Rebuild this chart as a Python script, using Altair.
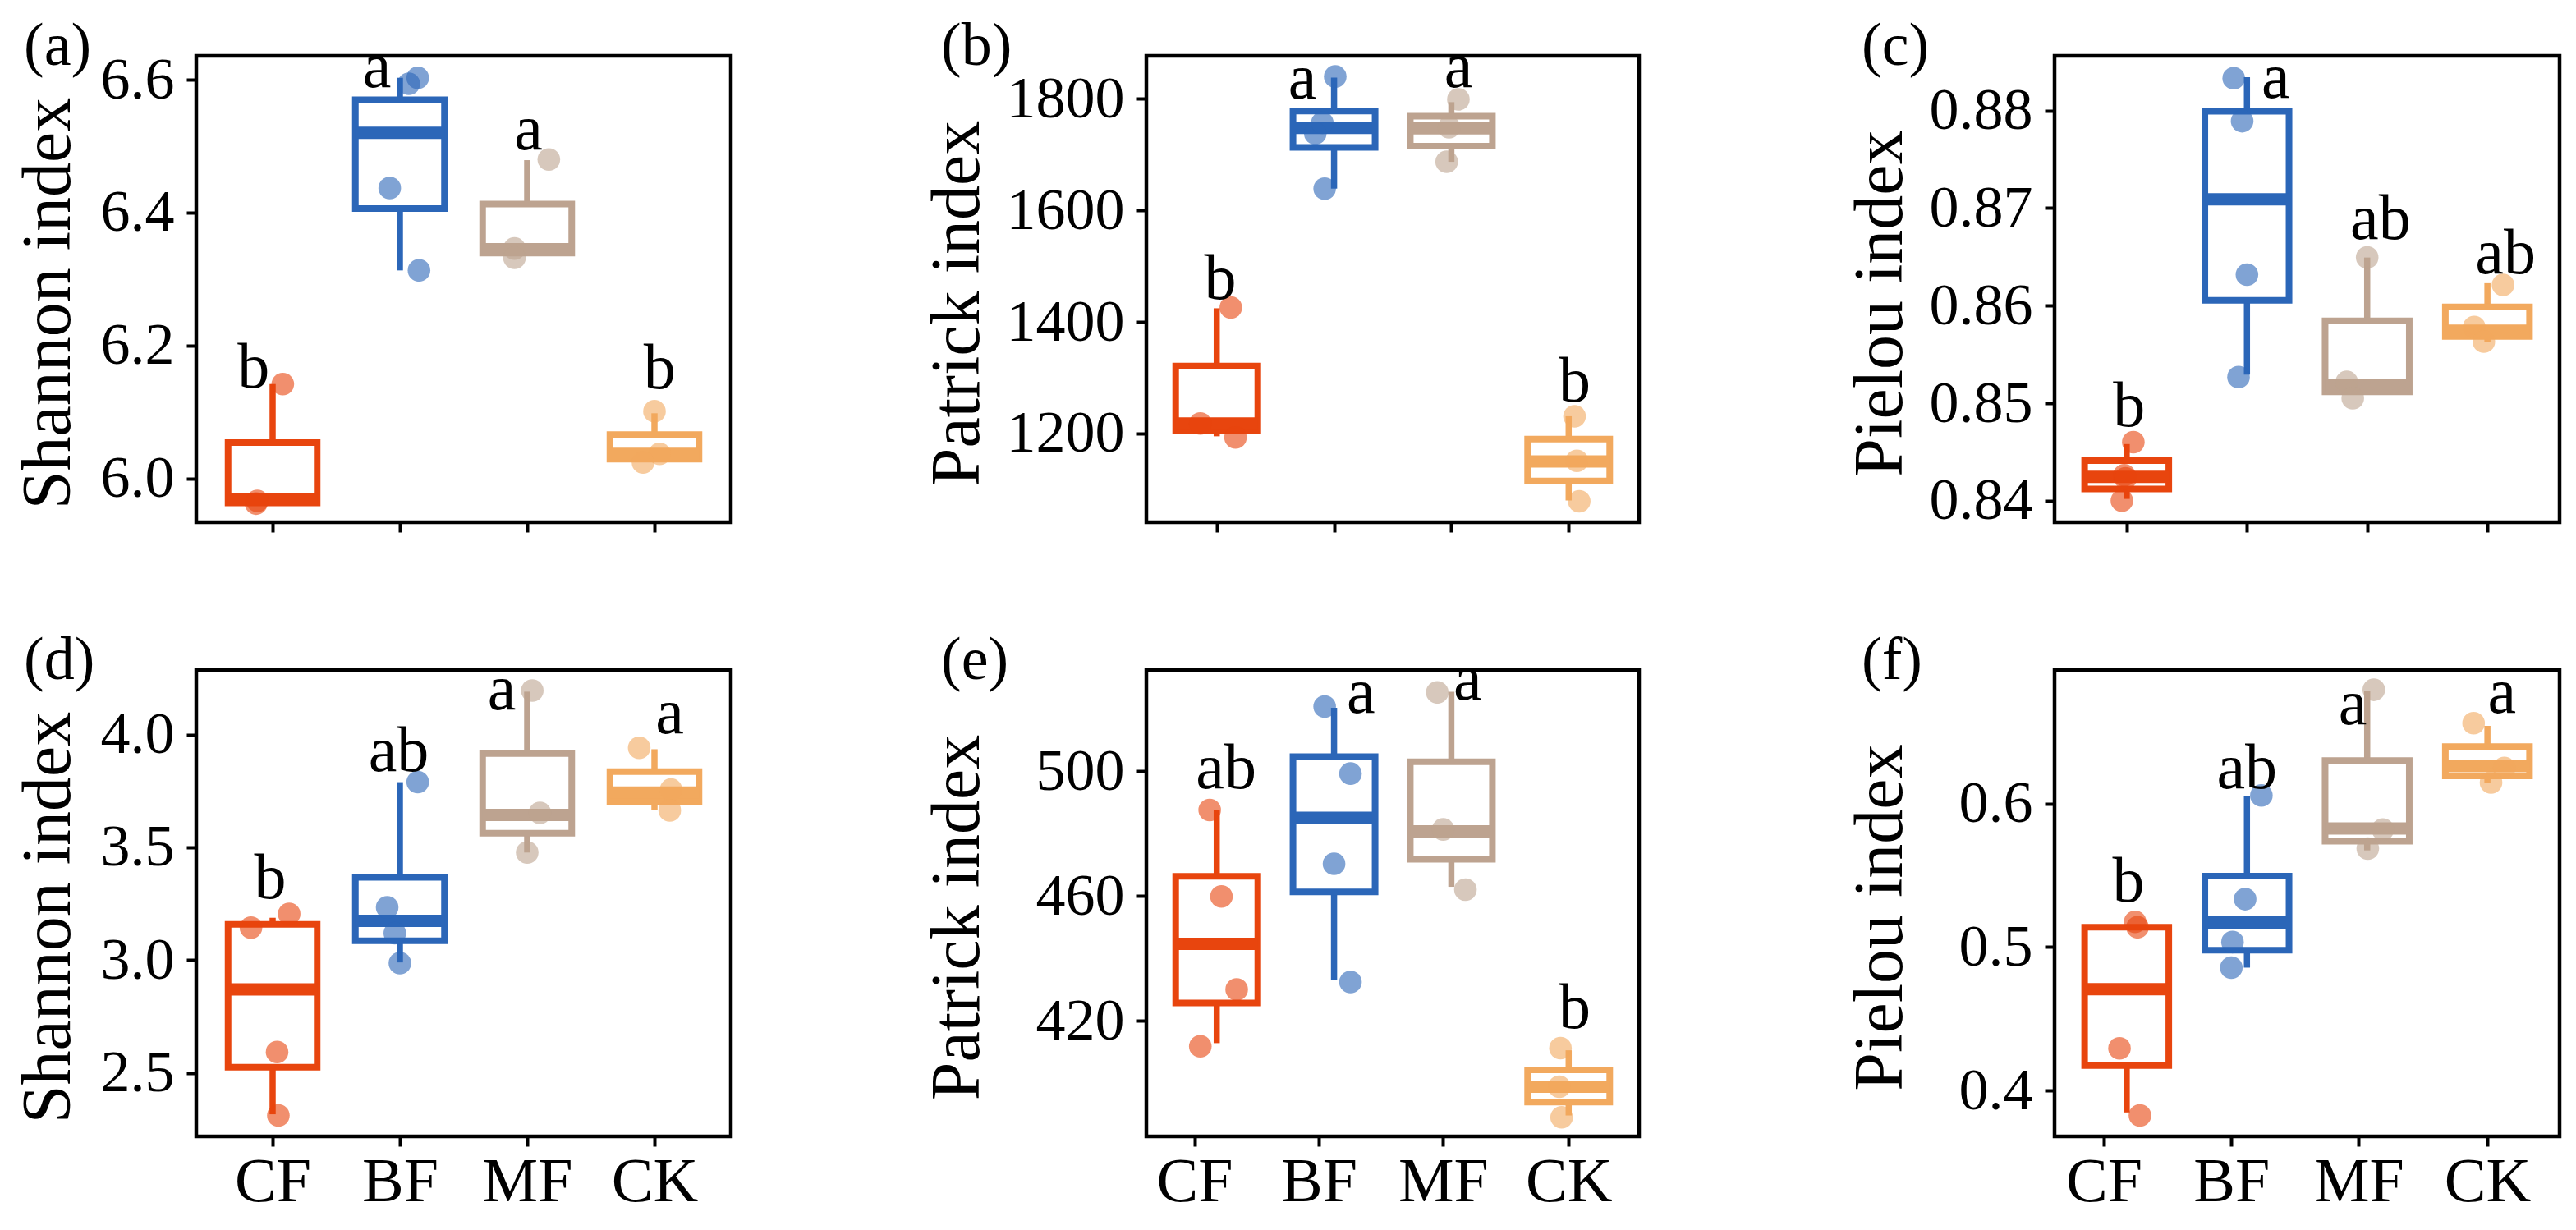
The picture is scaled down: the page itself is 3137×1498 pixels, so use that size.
import altair as alt
import pandas as pd

FONT = "Liberation Serif"
CATS = ["CF", "BF", "MF", "CK"]
COLORS = ["#E8450E", "#2B66B8", "#BDA390", "#F2A95E"]
X_TICKS_STD = [0, 1, 2, 3]
X_TICKS_SHIFT = [-0.19, 0.87, 1.93, 3.0]

# ---- (a) Shannon index, top row ----
a_q1 = [5.963, 6.406, 6.339, 6.029]
a_med = [5.968, 6.520, 6.345, 6.037]
a_q3 = [6.054, 6.570, 6.413, 6.066]
a_lo = [5.963, 6.313, 6.339, 6.029]
a_hi = [6.142, 6.603, 6.479, 6.098]
a_pts = [[5.962, 5.966, 6.142], [6.594, 6.603, 6.437, 6.313], [6.480, 6.346, 6.332], [6.101, 6.037, 6.024]]
a_jit = [[-0.13, -0.12, 0.08], [0.07, 0.14, -0.08, 0.15], [0.17, -0.10, -0.10], [0.0, 0.04, -0.09]]
a_let = ["b", "a", "a", "b"]
a_let_y = [6.137, 6.589, 6.495, 6.136]
a_let_dx = [-0.15, -0.18, 0.01, 0.04]

# ---- (b) Patrick index, top row ----
b_q1 = [1204.6, 1713, 1715, 1115]
b_med = [1218, 1748, 1747, 1150]
b_q3 = [1321, 1778, 1769, 1190]
b_lo = [1195, 1639, 1687, 1080]
b_hi = [1424.5, 1838, 1794, 1231]
b_pts = [[1426, 1218, 1193], [1840, 1757, 1738, 1639], [1799, 1749, 1687], [1231, 1151, 1078.5]]
b_jit = [[0.12, -0.14, 0.16], [0.01, -0.10, -0.16, -0.08], [0.06, -0.02, -0.04], [0.05, 0.07, 0.09]]
b_let = ["b", "a", "a", "b"]
b_let_y = [1442, 1800.6, 1821.7, 1257]
b_let_dx = [0.03, -0.27, 0.06, 0.05]

# ---- (c) Pielou index, top row ----
c_q1 = [0.8412, 0.86054, 0.85117, 0.85683]
c_med = [0.84244, 0.87089, 0.85181, 0.85743]
c_q3 = [0.84412, 0.87993, 0.85844, 0.85987]
c_lo = [0.84019, 0.85293, 0.85093, 0.8563]
c_hi = [0.84581, 0.88341, 0.86493, 0.8623]
c_pts = [[0.846, 0.84262, 0.8423, 0.84], [0.8833, 0.8789, 0.86317, 0.85267], [0.86493, 0.85218, 0.8505], [0.86212, 0.85781, 0.85631]]
c_jit = [[0.055, -0.02, -0.01, -0.04], [-0.11, -0.04, 0.0, -0.07], [0.0, -0.17, -0.12], [0.13, -0.11, -0.03]]
c_let = ["b", "a", "ab", "ab"]
c_let_y = [0.84768, 0.88131, 0.8668, 0.86332]
c_let_dx = [0.02, 0.24, 0.11, 0.15]

# ---- (d) Shannon index, bottom row ----
d_q1 = [2.526, 3.086, 3.563, 3.704]
d_med = [2.870, 3.174, 3.644, 3.743]
d_q3 = [3.159, 3.367, 3.916, 3.836]
d_lo = [2.317, 2.99, 3.477, 3.664]
d_hi = [3.188, 3.789, 4.19, 3.935]
d_pts = [[3.144, 3.205, 2.593, 2.312], [3.789, 3.234, 3.12, 2.987], [4.195, 3.653, 3.477], [3.941, 3.756, 3.664]]
d_jit = [[-0.17, 0.13, 0.035, 0.045], [0.14, -0.10, -0.04, 0.0], [0.04, 0.10, 0.0], [-0.12, 0.13, 0.12]]
d_let = ["b", "ab", "a", "a"]
d_let_y = [3.274, 3.838, 4.110, 4.006]
d_let_dx = [-0.02, -0.01, -0.20, 0.12]

# ---- (e) Patrick index, bottom row ----
e_q1 = [425.8, 461.4, 471.8, 394.0]
e_med = [444.7, 485.1, 480.8, 398.9]
e_q3 = [466.4, 504.7, 503.1, 404.3]
e_lo = [412.9, 433.0, 463.0, 389.7]
e_hi = [487.6, 520.4, 525.5, 410.6]
e_pts = [[487.6, 459.9, 430.1, 411.9], [520.8, 499.3, 470.4, 432.5], [525.3, 481.4, 462.1], [411.3, 398.9, 389.1]]
e_jit = [[-0.06, 0.04, 0.17, -0.14], [-0.08, 0.14, 0.0, 0.14], [-0.12, -0.07, 0.12], [-0.07, -0.08, -0.06]]
e_let = ["ab", "a", "a", "b"]
e_let_y = [494.6, 518.8, 522.9, 417.7]
e_let_dx = [0.08, 0.23, 0.14, 0.05]

# ---- (f) Pielou index, bottom row ----
f_q1 = [0.4174, 0.4978, 0.5737, 0.6192]
f_med = [0.4705, 0.517, 0.5826, 0.626]
f_q3 = [0.5137, 0.5494, 0.6299, 0.6396]
f_lo = [0.3847, 0.4856, 0.5673, 0.6146]
f_hi = [0.5137, 0.6049, 0.6784, 0.6541]
f_pts = [[0.5175, 0.5137, 0.4294, 0.3826], [0.6056, 0.5333, 0.5034, 0.4856], [0.6792, 0.5819, 0.5686], [0.6559, 0.6248, 0.6146]]
f_jit = [[0.07, 0.09, -0.06, 0.11], [0.12, -0.015, -0.12, -0.13], [0.055, 0.13, 0.005], [-0.115, 0.14, 0.03]]
f_let = ["b", "ab", "a", "a"]
f_let_y = [0.5315, 0.6107, 0.6554, 0.6631]
f_let_dx = [0.015, 0.0, -0.12, 0.12]

# axis domains / ticks
a_dom, a_ticks = [5.934, 6.636], [6.0, 6.2, 6.4, 6.6]
b_dom, b_ticks = [1041, 1877], [1200, 1400, 1600, 1800]
c_dom, c_ticks = [0.8378, 0.8856], [0.84, 0.85, 0.86, 0.87, 0.88]
d_dom, d_ticks = [2.219, 4.286], [2.5, 3.0, 3.5, 4.0]
e_dom, e_ticks = [383, 532.5], [420, 460, 500]
f_dom, f_ticks = [0.368, 0.693], [0.4, 0.5, 0.6]

H = 568
BOX_HALF = 0.35


def panel(q1, med, q3, lo, hi, pts, jit, let, let_y, let_dx, dom, ticks, fmt,
          title, plabel, width, title_x, label_x, xticks, show_x):
    idx = list(range(4))
    box = pd.DataFrame({"i": idx, "cat": CATS, "color": COLORS,
                        "q1": q1, "med": med, "q3": q3, "lo": lo, "hi": hi,
                        "xl": [i - BOX_HALF for i in idx], "xr": [i + BOX_HALF for i in idx]})
    rows = []
    for i, (vals, js) in enumerate(zip(pts, jit)):
        for v, j in zip(vals, js):
            rows.append({"x": i + j, "y": v, "color": COLORS[i]})
    pdf = pd.DataFrame(rows)
    ldf = pd.DataFrame({"x": [i + d for i, d in zip(idx, let_dx)], "y": let_y, "t": let})
    tdf = pd.DataFrame({"t": [plabel]})

    xs = alt.Scale(domain=[-0.6, 3.6], nice=False, zero=False)
    ys = alt.Scale(domain=dom, nice=False, zero=False)
    xaxis_kw = dict(values=xticks, title=None, grid=False, domain=False, ticks=True,
                    tickSize=12, tickWidth=4, tickColor="black", labels=show_x,
                    labelFont=FONT, labelFontSize=76, labelColor="black", labelPadding=6)
    if show_x:
        xaxis_kw["labelExpr"] = "['CF','BF','MF','CK'][round(datum.value)]"
    xaxis = alt.Axis(**xaxis_kw)
    yaxis = alt.Axis(values=ticks, format=fmt, title=title, grid=False, domain=False,
                     tickSize=12, tickWidth=4, tickColor="black",
                     labelFont=FONT, labelFontSize=72, labelColor="black", labelPadding=15,
                     titleFont=FONT, titleFontSize=84, titleFontWeight="normal",
                     titleColor="black", titleAngle=270, titleX=title_x, titleY=H / 2 + 17,
                     titleBaseline="alphabetic", titleAlign="center")
    col = alt.Color("color:N", scale=None, legend=None)

    def X(f):
        return alt.X(f, scale=xs, axis=xaxis)

    def Y(f):
        return alt.Y(f, scale=ys, axis=yaxis)

    whi = alt.Chart(box).mark_rule(strokeWidth=7.5).encode(
        x=X("i:Q"), y=Y("q3:Q"), y2="hi:Q", color=col)
    wlo = alt.Chart(box).mark_rule(strokeWidth=7.5).encode(
        x=X("i:Q"), y=Y("lo:Q"), y2="q1:Q", color=col)
    rect = alt.Chart(box).mark_rect(fill="white", strokeWidth=8).encode(
        x=X("xl:Q"), x2="xr:Q", y=Y("q1:Q"), y2="q3:Q",
        stroke=alt.Stroke("color:N", scale=None, legend=None))
    medr = alt.Chart(box).mark_rule(strokeWidth=15).encode(
        x=X("xl:Q"), x2="xr:Q", y=Y("med:Q"), color=col)
    dots = alt.Chart(pdf).mark_circle(size=760, opacity=0.6, strokeWidth=0).encode(
        x=X("x:Q"), y=Y("y:Q"), color=col)
    lets = alt.Chart(ldf).mark_text(font=FONT, fontSize=78, align="center",
                                    baseline="alphabetic", color="black").encode(
        x=X("x:Q"), y=Y("y:Q"), text="t:N")
    plab = alt.Chart(tdf).mark_text(font=FONT, fontSize=74, align="left",
                                    baseline="alphabetic", color="black").encode(
        x=alt.value(label_x), y=alt.value(11), text="t:N")
    return alt.layer(whi, wlo, rect, medr, dots, lets, plab).properties(width=width, height=H)


W = [651, 600, 615]
TX = [-155, -205, -187]
LX = [-210, -250, -235]

pa = panel(a_q1, a_med, a_q3, a_lo, a_hi, a_pts, a_jit, a_let, a_let_y, a_let_dx, a_dom, a_ticks, ".1f",
           "Shannon index", "(a)", W[0], TX[0], LX[0], X_TICKS_STD, False)
pb = panel(b_q1, b_med, b_q3, b_lo, b_hi, b_pts, b_jit, b_let, b_let_y, b_let_dx, b_dom, b_ticks, "d",
           "Patrick index", "(b)", W[1], TX[1], LX[1], X_TICKS_STD, False)
pc = panel(c_q1, c_med, c_q3, c_lo, c_hi, c_pts, c_jit, c_let, c_let_y, c_let_dx, c_dom, c_ticks, ".2f",
           "Pielou index", "(c)", W[2], TX[2], LX[2], X_TICKS_STD, False)
pd_ = panel(d_q1, d_med, d_q3, d_lo, d_hi, d_pts, d_jit, d_let, d_let_y, d_let_dx, d_dom, d_ticks, ".1f",
            "Shannon index", "(d)", W[0], TX[0], LX[0], X_TICKS_STD, True)
pe = panel(e_q1, e_med, e_q3, e_lo, e_hi, e_pts, e_jit, e_let, e_let_y, e_let_dx, e_dom, e_ticks, "d",
           "Patrick index", "(e)", W[1], TX[1], LX[1], X_TICKS_SHIFT, True)
pf = panel(f_q1, f_med, f_q3, f_lo, f_hi, f_pts, f_jit, f_let, f_let_y, f_let_dx, f_dom, f_ticks, ".1f",
           "Pielou index", "(f)", W[2], TX[2], LX[2], X_TICKS_SHIFT, True)

chart = alt.concat(pa, pb, pc, pd_, pe, pf, columns=3,
                   spacing={"row": 180, "column": 506}, bounds="flush").properties(
    padding={"left": 6, "top": 9, "right": 5, "bottom": 5},
    background="white",
).configure_view(stroke="black", strokeWidth=4.5).resolve_scale(y="independent", x="independent")

chart.save("out.html", embed_options={"renderer": "svg", "actions": False})
